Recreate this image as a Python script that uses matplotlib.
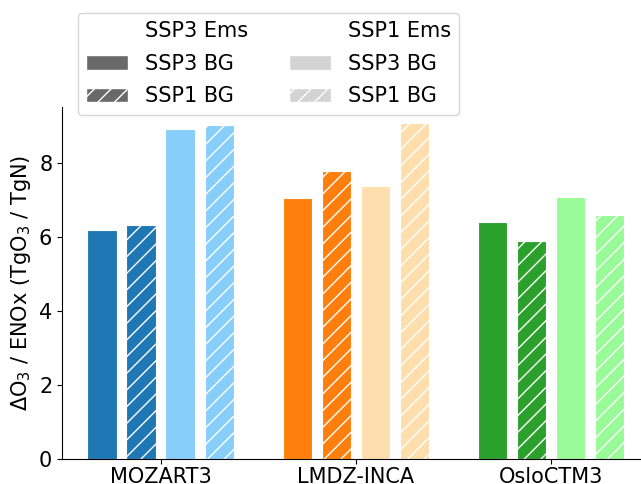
import matplotlib
matplotlib.use("Agg")
import matplotlib.pyplot as plt
import numpy as np

models = ["MOZART3", "LMDZ-INCA", "OsloCTM3"]
ssp3ems_ssp3bg = [6.20, 7.05, 6.42]
ssp3ems_ssp1bg = [6.33, 7.80, 5.91]
ssp1ems_ssp3bg = [8.92, 7.39, 7.08]
ssp1ems_ssp1bg = [9.04, 9.08, 6.60]

dark = ["#1f77b4", "#ff7f0e", "#2ca02c"]
light = ["lightskyblue", "navajowhite", "palegreen"]

plt.rcParams["font.size"] = 15

fig = plt.figure(figsize=(6.41, 4.84), dpi=100)
ax = fig.add_axes([0.0967, 0.0517, 0.9033, 0.7278])

x = np.arange(len(models))
w = 0.15
series = [
    (ssp3ems_ssp3bg, dark, None, -0.3),
    (ssp3ems_ssp1bg, dark, "//", -0.1),
    (ssp1ems_ssp3bg, light, None, 0.1),
    (ssp1ems_ssp1bg, light, "//", 0.3),
]
for vals, cols, hatch, off in series:
    ax.bar(x + off, vals, width=w, color=cols, edgecolor="white",
           linewidth=0.8, hatch=hatch)

ax.set_xticks(x)
ax.set_xticklabels(models)
ax.tick_params(axis="x", pad=2)
ax.set_xlim(-0.505, 2.46)
ax.set_ylim(0, 9.53)
ax.set_ylabel(r"$\Delta$O$_3$ / ENOx (TgO$_3$ / TgN)")
ax.spines["top"].set_visible(False)
ax.spines["right"].set_visible(False)

blank = plt.Rectangle((0, 0), 1, 1, fc="none", ec="none")
h = [blank,
     plt.Rectangle((0, 0), 1, 1, fc="dimgray", ec="white"),
     plt.Rectangle((0, 0), 1, 1, fc="dimgray", ec="white", hatch="//"),
     blank,
     plt.Rectangle((0, 0), 1, 1, fc="lightgray", ec="white"),
     plt.Rectangle((0, 0), 1, 1, fc="lightgray", ec="white", hatch="//")]
labels = ["SSP3 Ems", "SSP3 BG", "SSP1 BG", "SSP1 Ems", "SSP3 BG", "SSP1 BG"]
fig.legend(h, labels, ncol=2, loc="upper left",
           bbox_to_anchor=(0.1217, 0.973), bbox_transform=fig.transFigure,
           borderaxespad=0, labelspacing=0.6)

fig.savefig("out.png", dpi=100)
